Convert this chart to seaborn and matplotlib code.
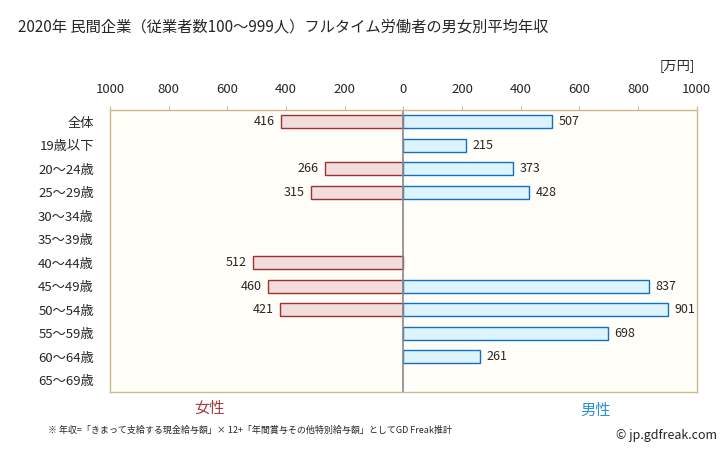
import numpy as np
import pandas as pd
import seaborn as sns
import matplotlib.pyplot as plt

sns.set_style("white")
plt.rcParams['font.family'] = ['Noto Sans CJK JP', 'DejaVu Sans']

# data (万円), NaN where no value
ages = ["全体", "19歳以下", "20～24歳", "25～29歳", "30～34歳", "35～39歳",
        "40～44歳", "45～49歳", "50～54歳", "55～59歳", "60～64歳", "65～69歳"]
female = [416, np.nan, 266, 315, np.nan, np.nan, 512, 460, 421, np.nan, np.nan, np.nan]
male = [507, 215, 373, 428, np.nan, np.nan, np.nan, 837, 901, 698, 261, np.nan]
ticks = [-1000, -800, -600, -400, -200, 0, 200, 400, 600, 800, 1000]

df = pd.DataFrame({"age": ages, "female": female, "male": male})
df["female_neg"] = -df["female"]

fig = plt.figure(figsize=(7.28, 4.51), dpi=100)
ax = fig.add_axes([0.151, 0.131, 0.806, 0.625])
ax.set_facecolor("#FFFEF8")

sns.barplot(data=df, y="age", x="female_neg", orient="h", color="#F2DCDC",
            edgecolor="#A03030", linewidth=1.0, width=0.56, ax=ax, saturation=1)
sns.barplot(data=df, y="age", x="male", orient="h", color="#DDF3FD",
            edgecolor="#1070C0", linewidth=1.0, width=0.56, ax=ax, saturation=1)

for i, (f, m) in enumerate(zip(female, male)):
    if not np.isnan(f):
        ax.text(-f - 22, i, f"{int(f)}", ha="right", va="center", fontsize=9)
    if not np.isnan(m):
        ax.text(m + 22, i, f"{int(m)}", ha="left", va="center", fontsize=9)

ax.set_xlim(-1000, 1000)
ax.set_ylim(len(ages) - 0.5, -0.5)
ax.axvline(0, color="#888888", linewidth=1.2)
ax.set_xticks(ticks)
ax.set_xticklabels([str(abs(t)) for t in ticks])
ax.xaxis.tick_top()
ax.tick_params(axis="x", which="both", top=True, bottom=False, direction="out",
               length=3, color="#C8BC8C", labelsize=9.5, pad=7)
ax.tick_params(axis="y", left=False, labelsize=9.5, pad=8)
ax.set_xlabel("")
ax.set_ylabel("")
for s in ax.spines.values():
    s.set_color("#C8BC8C")
    s.set_linewidth(1.0)

fig.text(0.025, 0.94, "2020年 民間企業（従業者数100～999人）フルタイム労働者の男女別平均年収",
         fontsize=11, va="center", ha="left")
fig.text(0.955, 0.855, "[万円]", fontsize=9.5, ha="right", va="center")
fig.text(0.288, 0.095, "女性", color="#A04040", fontsize=11, ha="center", va="center")
fig.text(0.818, 0.09, "男性", color="#3090D0", fontsize=11, ha="center", va="center")
fig.text(0.066, 0.047, "※ 年収=「きまって支給する現金給与額」× 12+「年間賞与その他特別給与額」としてGD Freak推計",
         fontsize=6.5, ha="left", va="center")
fig.text(0.985, 0.035, "© jp.gdfreak.com", fontsize=9, ha="right", va="center")

fig.savefig("out.png", dpi=100)
